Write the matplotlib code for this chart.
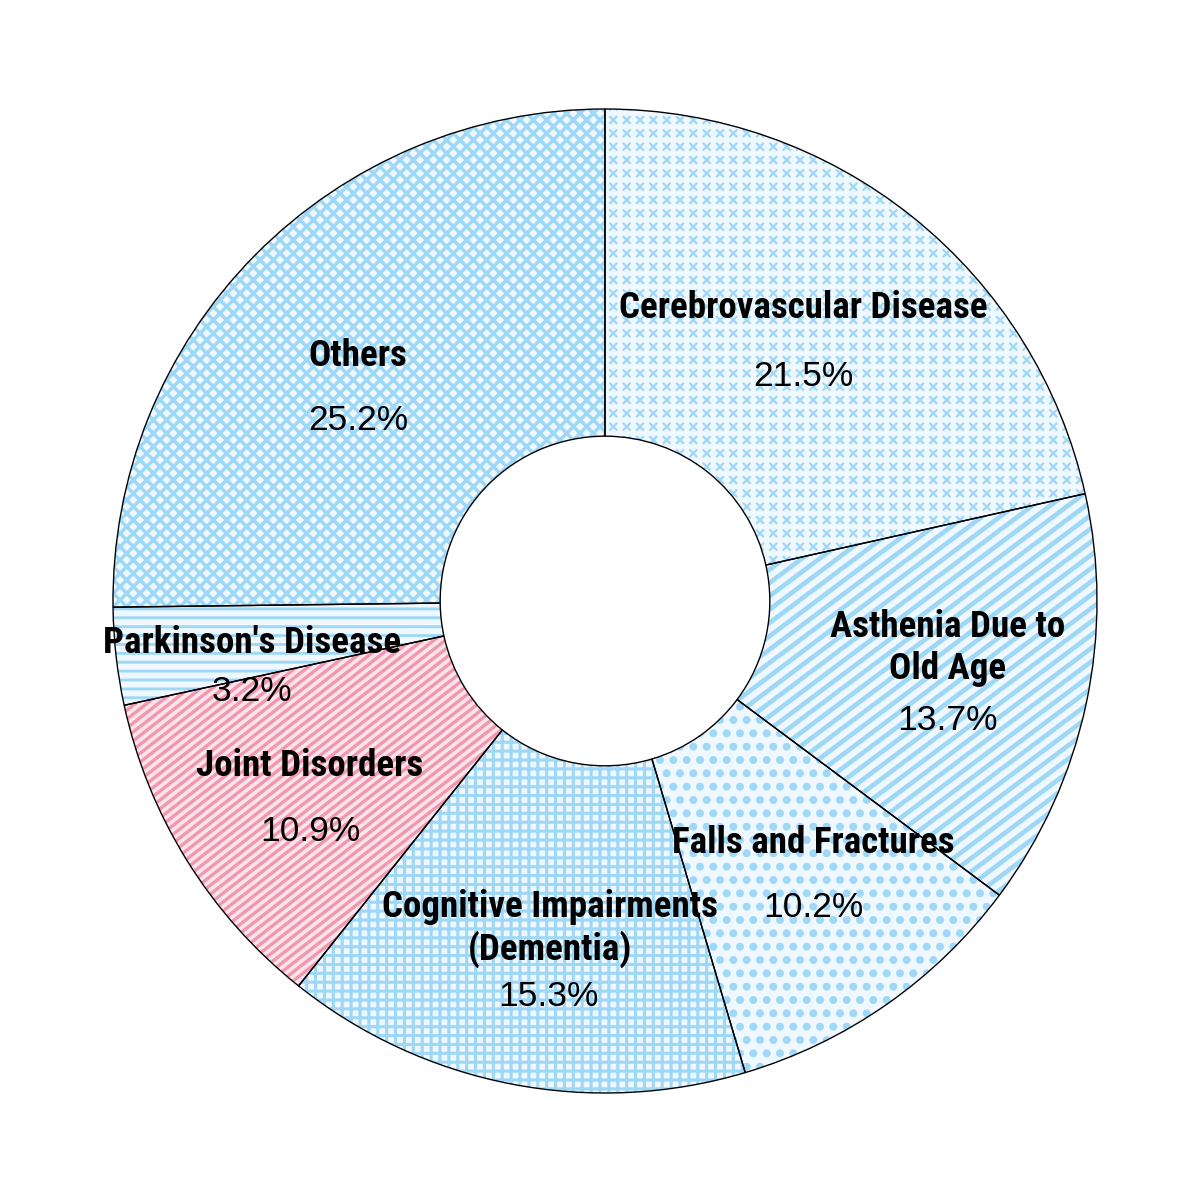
import numpy as np
import matplotlib
matplotlib.use("Agg")
import matplotlib.pyplot as plt
import matplotlib.hatch as mhatch
from matplotlib.path import Path
from matplotlib import font_manager as fm

# ---------------- data ----------------
categories = ["Cerebrovascular Disease", "Asthenia Due to\nOld Age", "Falls and Fractures",
              "Cognitive Impairments\n(Dementia)", "Joint Disorders",
              "Parkinson's Disease", "Others"]
shares = [21.5, 13.7, 10.2, 15.3, 10.9, 3.2, 25.2]

# ---------------- styles ----------------
BLUE_FILL = "#EEF8FE"
BLUE_HATCH = "#9FD8F7"
PINK_FILL = "#FDE5EB"
PINK_HATCH = "#F197B0"
fills = [BLUE_FILL, BLUE_FILL, BLUE_FILL, BLUE_FILL, PINK_FILL, BLUE_FILL, BLUE_FILL]
hatch_colors = [BLUE_HATCH, BLUE_HATCH, BLUE_HATCH, BLUE_HATCH, PINK_HATCH, BLUE_HATCH, BLUE_HATCH]
hatches = ["**", "//", "..", "+++", "///", "---", "xx"]
hatch_lws = [1.0, 2.1, 0.3, 1.4, 1.5, 1.3, 1.55]

# label nudges relative to the point at 0.7 radius on the wedge mid-angle
Y_SHIFT = -0.006
LABEL_NUDGE = [(-0.035, 0.056), (0.012, 0.057), (0.022, 0.088), (0.021, 0.028),
               (-0.005, 0.040), (-0.021, 0.000), (-0.004, 0.012)]
PCT_NUDGE = [(-0.035, -0.083), (0.012, -0.090), (0.022, -0.044), (0.019, -0.110),
             (-0.005, -0.092), (-0.021, -0.098), (-0.004, -0.120)]


# ---------------- custom hatch shapes (explicit geometry) ----------------
class GridCrosses(mhatch.HatchPatternBase):
    """Small separate 'x' marks on an aligned square grid (uses the '*' char)."""
    size = 0.23

    def __init__(self, hatch, density):
        self.num_rows = int(hatch.count('*') * density)
        self.num_vertices = (self.num_rows + 1) ** 2 * 4 if self.num_rows else 0

    def set_vertices_and_codes(self, vertices, codes):
        n = self.num_rows
        off = 1.0 / n
        h = self.size * off
        k = 0
        for r in range(n + 1):
            for c in range(n + 1):
                x, y = c * off, r * off
                vertices[k:k + 4] = [(x - h, y - h), (x + h, y + h),
                                     (x - h, y + h), (x + h, y - h)]
                codes[k:k + 4] = [Path.MOVETO, Path.LINETO, Path.MOVETO, Path.LINETO]
                k += 4


class AngledStripes(mhatch.HatchPatternBase):
    """'/' stripes at about 37 degrees, vertical pitch 1/n of the hatch tile."""
    def __init__(self, hatch, density):
        self.n = int(hatch.count('/') * density)
        if self.n:
            self.slope_steps = int(round(0.76 * self.n))
            self.ks = np.arange(-self.slope_steps - 1, self.n + 2)
            self.num_vertices = len(self.ks) * 2
        else:
            self.num_vertices = 0

    def set_vertices_and_codes(self, vertices, codes):
        m = self.slope_steps / self.n
        c = self.ks / self.n
        vertices[0::2, 0] = -1.0
        vertices[0::2, 1] = -m + c
        vertices[1::2, 0] = 2.0
        vertices[1::2, 1] = 2 * m + c
        codes[0::2] = Path.MOVETO
        codes[1::2] = Path.LINETO


class CrossHatch45(mhatch.HatchPatternBase):
    """'x' crosshatch at 45 degrees, horizontal pitch 1/n of the hatch tile."""
    def __init__(self, hatch, density):
        self.n = int(hatch.count('x') * density)
        self.num_vertices = 2 * (2 * self.n + 1) * 2 if self.n else 0

    def set_vertices_and_codes(self, vertices, codes):
        n = self.n
        half = (2 * n + 1) * 2
        c1 = np.arange(-n, n + 1) / n
        v = vertices[:half]
        v[0::2, 0] = -1.0
        v[0::2, 1] = -1.0 + c1
        v[1::2, 0] = 2.0
        v[1::2, 1] = 2.0 + c1
        c2 = np.arange(0, 2 * n + 1) / n
        v = vertices[half:]
        v[0::2, 0] = -1.0
        v[0::2, 1] = 1.0 + c2
        v[1::2, 0] = 2.0
        v[1::2, 1] = -2.0 + c2
        codes[0::2] = Path.MOVETO
        codes[1::2] = Path.LINETO


_swap = {mhatch.Stars: GridCrosses, mhatch.NorthEastHatch: AngledStripes,
         mhatch.SouthEastHatch: CrossHatch45}
mhatch._hatch_types = [_swap.get(t, t) for t in mhatch._hatch_types]
mhatch.SmallFilledCircles.size = 0.27


# ---------------- fonts: pick a condensed bold face if one is installed ----------------
def _stretch_val(s):
    if isinstance(s, (int, float)):
        return s
    return {"ultra-condensed": 100, "extra-condensed": 200, "condensed": 300,
            "semi-condensed": 400, "normal": 500}.get(str(s), 500)


def _weight_val(w):
    if isinstance(w, (int, float)):
        return w
    return fm.weight_dict.get(str(w), 400)


def pick_condensed_bold():
    pref = {"Liberation Sans Narrow": 10, "Roboto Condensed": 8, "Noto Sans": 6,
            "Noto Sans Condensed": 6, "Open Sans": 5, "Open Sans Condensed": 5,
            "Roboto": 5, "DejaVu Sans": 3, "DejaVu Sans Condensed": 3,
            "Liberation Sans": 1}
    best, best_score = None, -1e9
    for f in fm.fontManager.ttflist:
        if f.name not in pref:
            continue
        sv = _stretch_val(f.stretch)
        name_l = (f.fname or "").lower()
        if "condensed" in name_l or "narrow" in name_l:
            sv = min(sv, 300 if "semi" not in name_l and "extra" not in name_l else
                     (400 if "semi" in name_l else 200))
        if "italic" in name_l or f.style != "normal":
            continue
        wv = _weight_val(f.weight)
        if wv < 600 or wv > 800:
            continue
        score = pref[f.name]
        if sv == 300:
            score += 20
        elif sv == 400:
            score += 14
        elif sv == 200:
            score += 12
        if score > best_score:
            best, best_score = f, score
    if best is None:
        return fm.FontProperties(family="DejaVu Sans", weight="bold")
    return fm.FontProperties(fname=best.fname)


label_fp = pick_condensed_bold()
pct_fp = fm.FontProperties(family=["Liberation Sans", "DejaVu Sans"])

# ---------------- figure ----------------
DPI = 160
fig = plt.figure(figsize=(1200 / DPI, 1200 / DPI), dpi=DPI)
ax = fig.add_axes([0, 0, 1, 1])

WIDTH = 0.665
wedges, _ = ax.pie(shares, startangle=90, counterclock=False, radius=1.0,
                   colors=fills, wedgeprops=dict(width=WIDTH, linewidth=0))
for w, hc, hp, lw in zip(wedges, hatch_colors, hatches, hatch_lws):
    w.set_edgecolor(hc)          # hatch colour follows the edge colour
    w.set_linewidth(0)
    w.set_hatch(hp)
    w.set_hatch_linewidth(lw)

outline, _ = ax.pie(shares, startangle=90, counterclock=False, radius=1.0,
                    wedgeprops=dict(width=WIDTH, fill=False, edgecolor="black",
                                    linewidth=0.62))

R_PX = 492.0
ax.set_xlim(-605 / R_PX, 595 / R_PX)
ax.set_ylim(-599 / R_PX, 601 / R_PX)
ax.set_aspect("equal")
ax.axis("off")

# size fonts so the reference text widths are matched
renderer = fig.canvas.get_renderer()


def fit_size(text, fp, target_px, start=16):
    t = fig.text(0, 0, text, fontproperties=fp, fontsize=start)
    wpx = t.get_window_extent(renderer).width
    t.remove()
    return start * target_px / wpx


label_size = fit_size("Cerebrovascular Disease", label_fp, 368)
pct_size = fit_size("21.5%", pct_fp, 100)

for w, cat, val, ln, pn in zip(wedges, categories, shares, LABEL_NUDGE, PCT_NUDGE):
    mid = np.deg2rad((w.theta1 + w.theta2) / 2)
    ax_, ay_ = 0.7 * np.cos(mid), 0.7 * np.sin(mid) + Y_SHIFT
    ax.text(ax_ + ln[0], ay_ + ln[1], cat, ha="center", va="center",
            linespacing=1.2, fontproperties=label_fp, fontsize=label_size)
    ax.text(ax_ + pn[0], ay_ + pn[1], f"{val:.1f}%", ha="center", va="center",
            fontproperties=pct_fp, fontsize=pct_size)

fig.savefig("out.png", dpi=DPI, facecolor="white")
